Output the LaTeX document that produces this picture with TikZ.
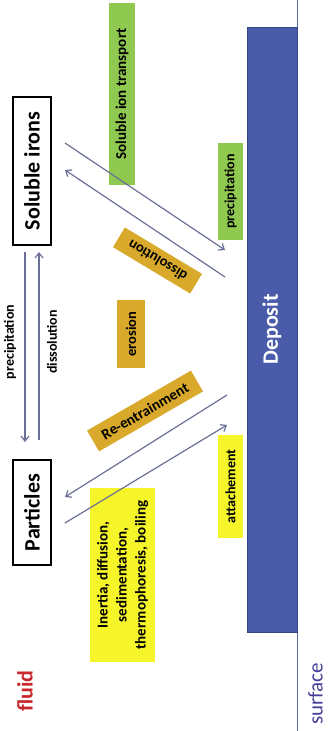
\documentclass[tikz,border=0pt]{standalone}
\usepackage{fontspec}
\setmainfont{Carlito}
\usetikzlibrary{arrows.meta}
\definecolor{depblue}{HTML}{4A5BAA}
\definecolor{depedge}{HTML}{34448A}
\definecolor{surfline}{HTML}{5A6AA8}
\definecolor{surftext}{HTML}{44409A}
\definecolor{arrowcol}{HTML}{6B7096}
\definecolor{greenbox}{HTML}{8FC94F}
\definecolor{orangebox}{HTML}{D9A92B}
\definecolor{yellowbox}{HTML}{F5F52A}
\definecolor{fluidred}{HTML}{C8282D}
\tikzset{
  species/.style={draw=black, line width=1.6pt, fill=white, rotate=90, inner sep=0pt,
    font=\fontsize{22}{24}\selectfont\bfseries},
  greenlab/.style={fill=greenbox, rotate=90, inner sep=0pt, font=\fontsize{14}{16}\selectfont\bfseries},
  orangelab/.style={fill=orangebox, inner sep=0pt, font=\fontsize{14.5}{16}\selectfont\bfseries},
  yellowlab/.style={fill=yellowbox, rotate=90, inner sep=0pt, font=\fontsize{14}{16}\selectfont\bfseries},
  flowarrow/.style={draw=arrowcol, line width=1.2pt, -{Straight Barb[length=5pt,width=8pt]}},
  sidelab/.style={rotate=90, inner sep=0pt, font=\fontsize{14}{16}\selectfont\bfseries},
}
\begin{document}
\begin{tikzpicture}[x=1pt,y=-1pt]
\useasboundingbox (0,0) rectangle (327,731);
\fill[white] (0,0) rectangle (327,731);
% surface line
\coordinate (stop) at (297.5,0);
\coordinate (sbot) at (297.5,731);
\draw[surfline, line width=1.3pt] (stop) -- (sbot);
% deposit
\node[draw=depedge, line width=1pt, fill=depblue, rotate=90, minimum width=605pt, minimum height=50pt, inner sep=0pt,
  text=white, font=\fontsize{22}{24}\selectfont\bfseries] (dep) at (272,329.5) {Deposit};
% species boxes
\node[species, minimum width=148pt, minimum height=38pt] (sol) at (32,171) {Soluble irons};
\node[species, minimum width=105pt, minimum height=38pt] (part) at (32,512.5) {Particles};
% green labels
\node[greenlab, minimum width=182pt, minimum height=26pt, font=\fontsize{15}{17}\selectfont\bfseries] (sit) at (122,94) {Soluble ion transport};
\node[greenlab, minimum width=97pt, minimum height=25pt] (prec) at (230.5,191.5) {precipitation};
% yellow labels
\node[yellowlab, minimum width=103pt, minimum height=25pt] (att) at (230.5,486.5) {attachement};
\node[yellowlab, minimum width=174pt, minimum height=65pt, align=center,
  font=\fontsize{15}{19}\selectfont\bfseries] (mech) at (122.5,575) {Inertia, diffusion,\\sedimentation,\\thermophoresis, boiling};
% orange labels
\node[orangelab, rotate=90, minimum width=68pt, minimum height=28pt] (ero) at (131,334) {erosion};
\node[orangelab, rotate=149, minimum width=90pt, minimum height=23pt] (diss) at (157.5,260.5) {dissolution};
\node[orangelab, rotate=30, minimum width=120pt, minimum height=24pt, font=\fontsize{15}{16}\selectfont\bfseries] (reen) at (145,411) {Re-entrainment};
% side labels
\node[sidelab] (lprec) at (10,342) {precipitation};
\node[sidelab] (ldiss) at (52,342) {dissolution};
\node[rotate=90, inner sep=0pt, text=fluidred, font=\fontsize{22}{24}\selectfont\bfseries] (fluid) at (25,691) {fluid};
\node[rotate=90, inner sep=0pt, text=surftext, font=\fontsize{21}{23}\selectfont] (surf) at (315.5,694) {surface};
% arrow end points
\coordinate (a1s) at (65,143);  \coordinate (a1e) at (225,250);
\coordinate (a2s) at (225,277); \coordinate (a2e) at (65,170);
\coordinate (a3s) at (227,395); \coordinate (a3e) at (65,497);
\coordinate (a4s) at (65,523);  \coordinate (a4e) at (227,425);
\coordinate (v1s) at (25,252);  \coordinate (v1e) at (25,442);
\coordinate (v2s) at (39,440);  \coordinate (v2e) at (39,252);
\draw[flowarrow] (a1s) -- (a1e);
\draw[flowarrow] (a2s) -- (a2e);
\draw[flowarrow] (a3s) -- (a3e);
\draw[flowarrow] (a4s) -- (a4e);
\draw[flowarrow] (v1s) -- (v1e);
\draw[flowarrow] (v2s) -- (v2e);
\end{tikzpicture}
\end{document}
